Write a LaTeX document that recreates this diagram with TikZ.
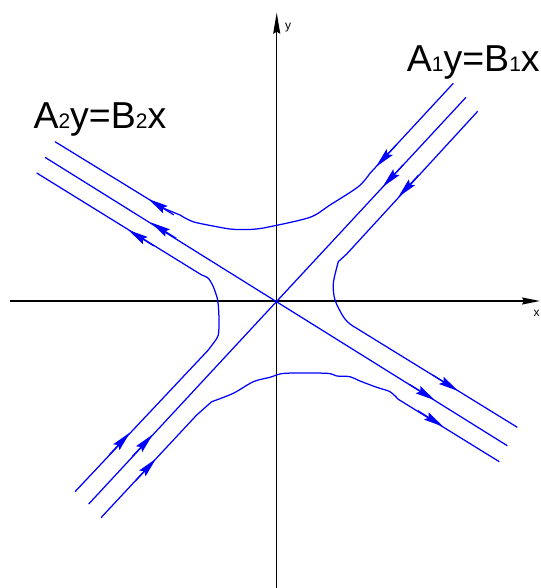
\documentclass[tikz,border=0pt]{standalone}
\usepackage{fontspec}
\setmainfont{Liberation Sans}
\usetikzlibrary{arrows.meta,calc}
\newcommand\smalldigit[1]{{\fontsize{21}{21}\selectfont #1}}
\begin{document}
\begin{tikzpicture}[x=1pt,y=-1pt,
  traj/.style={draw=blue,line width=1.25pt,line join=round},
  flowarr/.style={draw=blue,line width=1.25pt,-{Stealth[length=20pt,width=8.5pt,inset=3pt]},fill=blue},
  axis/.style={draw=black,line width=1.3pt},
  biglabel/.style={font=\fontsize{37.5}{37.5}\selectfont,inner sep=0pt,anchor=base west},
  axlabel/.style={font=\fontsize{12}{12}\selectfont,inner sep=0pt,anchor=base west}]
\useasboundingbox (0,0) rectangle (540,588);
% axes
\coordinate (O) at (276.7,301);
\coordinate (xs) at (10,301);
\coordinate (xe) at (540,301);
\coordinate (ys) at (276.7,588);
\coordinate (ye) at (276.7,12.7);
\draw[axis,-{Stealth[length=18pt,width=7pt,inset=2pt]}] (xs) -- (xe);
\draw[axis,-{Stealth[length=21pt,width=7pt,inset=2pt]}] (ys) -- (ye);
\node[axlabel] (ylab) at (285,30) {y};
\node[axlabel] (xlab) at (533.3,316) {x};
% labels
\node[biglabel] (l1) at (406.7,71.7) {A\smalldigit{1}y=B\smalldigit{1}x};
\node[biglabel] (l2) at (33.3,128.3) {A\smalldigit{2}y=B\smalldigit{2}x};
% separatrices
\coordinate (a1s) at (88.7,504);
\coordinate (a1e) at (466,97.3);
\coordinate (a2s) at (45,157.3);
\coordinate (a2e) at (507.3,445.7);
\draw[traj] (a1s) -- (a1e);
\draw[traj] (a2s) -- (a2e);
% top trajectory
\draw[traj] (55,141.7) -- (163,208) -- plot[smooth,tension=0.5] coordinates {(180,215) (193,221.7) (216.7,226.7) (233,229.3) (253,229.3) (270,226.7) (310,217.3) (330,205) (358.3,186.7) (370,173.3)} -- (453.3,83.3);
% right trajectory
\draw[traj] (477.7,111.3) -- (346.7,254) -- plot[smooth,tension=0.5] coordinates {(338.3,261.7) (333.3,283.3) (335,300) (343.3,316.7) (350,324) (355,327.3)} -- (517.3,427.3);
% bottom trajectory
\draw[traj] (101,517.7) -- (196.7,415) -- plot[smooth,tension=0.5] coordinates {(211.7,401.7) (233.3,393.3) (253.3,381.7) (270,377.3) (285,373.3) (326.7,373.3) (336.7,376) (350,376.7) (360,381) (376.7,387.3) (390,391.7) (398.3,399.3)} -- (499.3,461.7);
% left trajectory
\draw[traj] (75,491.7) -- (208.3,350) -- plot[smooth,tension=0.5] coordinates {(213.3,343.3) (218.3,335) (219,320) (218.3,305) (217.3,298.3) (213.3,286.7) (208.3,278.3) (201.7,275)} -- (36.7,173);
% arrow tips
\coordinate (ttl1) at (148.3,199);
\coordinate (ttl2) at (150.7,222.4);
\coordinate (ttl3) at (128.3,230);
\coordinate (ttr1) at (376,166.8);
\coordinate (ttr2) at (382.7,186.9);
\coordinate (ttr3) at (398.3,197);
\coordinate (tbl1) at (130,432.5);
\coordinate (tbl2) at (152.7,434.5);
\coordinate (tbl3) at (156,458.7);
\coordinate (tbr1) at (458.3,391);
\coordinate (tbr2) at (435,400.3);
\coordinate (tbr3) at (443.3,426.6);
\foreach \t in {ttl1,ttl2,ttl3} \draw[flowarr] ($(\t)+(25.5,15.9)$) -- (\t);
\foreach \t in {ttr1,ttr2,ttr3} \draw[flowarr] ($(\t)+(20.4,-22)$) -- (\t);
\foreach \t in {tbl1,tbl2,tbl3} \draw[flowarr] ($(\t)+(-20.4,22)$) -- (\t);
\foreach \t in {tbr1,tbr2,tbr3} \draw[flowarr] ($(\t)+(-25.5,-15.9)$) -- (\t);
\end{tikzpicture}
\end{document}
